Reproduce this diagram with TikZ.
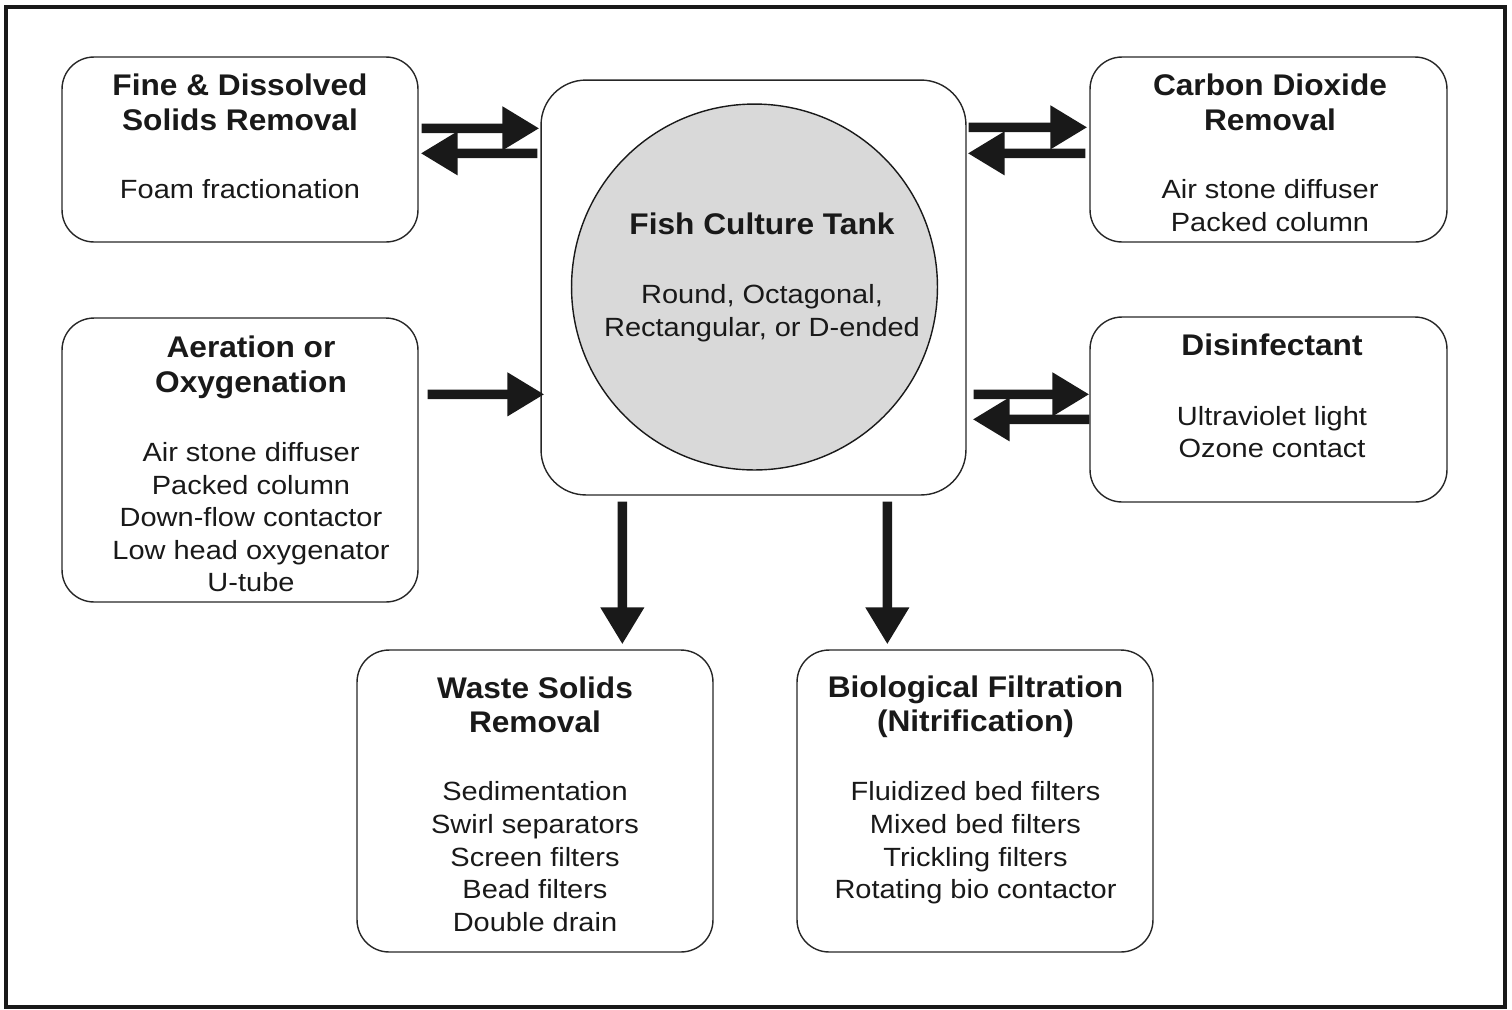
\documentclass[tikz,border=0pt]{standalone}
\usepackage{fontspec}
\setmainfont{Liberation Sans}
\newfontfamily\bodyfont[FakeStretch=1.10]{Liberation Sans}
\newfontfamily\headfont[FakeStretch=1.06]{Liberation Sans}
\usetikzlibrary{arrows.meta}
\begin{document}
\begin{tikzpicture}[x=0.02cm,y=-0.02cm,
  box/.style={draw=black!85, line width=0.8pt, rounded corners=0.64cm, inner sep=0pt},
  head/.style={font=\headfont\bfseries\fontsize{17}{20}\selectfont, anchor=base, inner sep=0pt, text=black!90},
  body/.style={font=\bodyfont\fontsize{15}{18}\selectfont, anchor=base, inner sep=0pt, text=black!90},
  flow/.style={line width=5.4pt, draw=black!90, -{Triangle[length=21pt,width=23.5pt]}}
]
\useasboundingbox (0,0) rectangle (1512,1009);
\draw[line width=2.6pt, black!90] (6,7) rectangle (1505,1007);

% boxes
\node[box, minimum width=7.12cm, minimum height=3.70cm] (fine) at (240,149.5) {};
\node[box, minimum width=7.14cm, minimum height=3.70cm] (co2) at (1268.5,149.5) {};
\node[box, rounded corners=0.9cm, minimum width=8.50cm, minimum height=8.30cm] (tank) at (753.5,287.5) {};
\node[draw=black!90, circle, fill=gray!30, line width=0.8pt, minimum size=7.32cm, inner sep=0pt] (circ) at (754.5,287) {};
\node[box, minimum width=7.12cm, minimum height=5.68cm] (aer) at (240,460) {};
\node[box, minimum width=7.14cm, minimum height=3.70cm] (dis) at (1268.5,409.5) {};
\node[box, minimum width=7.12cm, minimum height=6.04cm] (waste) at (535,801) {};
\node[box, minimum width=7.12cm, minimum height=6.04cm] (bio) at (975,801) {};

% texts
\node[head] (fineh1) at (240,95) {Fine \& Dissolved};
\node[head] (fineh2) at (240,130) {Solids Removal};
\node[body] (fineb1) at (240,198) {Foam fractionation};

\node[head] (co2h1) at (1270,95) {Carbon Dioxide};
\node[head] (co2h2) at (1270,130) {Removal};
\node[body] (co2b1) at (1270,198) {Air stone diffuser};
\node[body] (co2b2) at (1270,231) {Packed column};

\node[head] (tankh) at (762,234) {Fish Culture Tank};
\node[body] (tankb1) at (762,303.5) {Round, Octagonal,};
\node[body] (tankb2) at (762,336) {Rectangular, or D-ended};

\node[head] (aerh1) at (251,357) {Aeration or};
\node[head] (aerh2) at (251,392) {Oxygenation};
\foreach \t [count=\i] in {Air stone diffuser, Packed column, Down-flow contactor, Low head oxygenator, U-tube}
  \node[body] (aerb\i) at (251,{461.7+32.5*(\i-1)}) {\t};

\node[head] (dish) at (1272,355) {Disinfectant};
\node[body] (disb1) at (1272,425) {Ultraviolet light};
\node[body] (disb2) at (1272,457.5) {Ozone contact};

\node[head] (wasteh1) at (535,698) {Waste Solids};
\node[head] (wasteh2) at (535,732) {Removal};
\foreach \t [count=\i] in {Sedimentation, Swirl separators, Screen filters, Bead filters, Double drain}
  \node[body] (wasteb\i) at (535,{800.5+32.75*(\i-1)}) {\t};

\node[head] (bioh1) at (975.5,697) {Biological Filtration};
\node[head] (bioh2) at (975.5,731) {(Nitrification)};
\foreach \t [count=\i] in {Fluidized bed filters, Mixed bed filters, Trickling filters, Rotating bio contactor}
  \node[body] (biob\i) at (975.5,{800.5+32.75*(\i-1)}) {\t};

% connectors
\draw[flow] ([shift={(3,72)}]fine.north east) -- ([shift={(-1,49)}]tank.north west);
\draw[flow] ([shift={(-3,74)}]tank.north west) -- ([shift={(2,97)}]fine.north east);
\draw[flow] ([shift={(2,48)}]tank.north east) -- ([shift={(-2,71)}]co2.north west);
\draw[flow] ([shift={(-4,97)}]co2.north west) -- ([shift={(1,74)}]tank.north east);
\draw[flow] ([shift={(7,315)}]tank.north east) -- ([shift={(0,78)}]dis.north west);
\draw[flow] ([shift={(0,103)}]dis.north west) -- ([shift={(6,340)}]tank.north east);
\draw[flow] ([shift={(9,77)}]aer.north east) -- ([shift={(4,315)}]tank.north west);
\draw[flow] ([shift={(82,6)}]tank.south west) -- ([shift={(266,-5)}]waste.north west);
\draw[flow] ([shift={(347,6)}]tank.south west) -- ([shift={(91,-5)}]bio.north west);
\end{tikzpicture}
\end{document}
